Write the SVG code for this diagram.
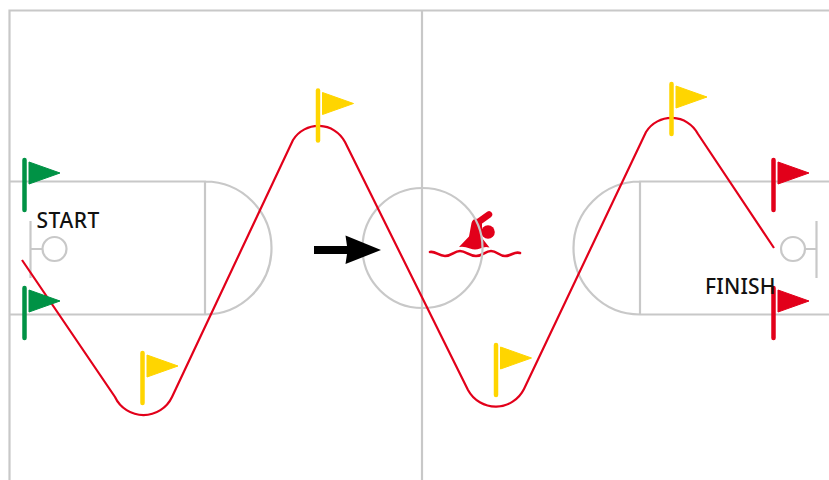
<svg xmlns="http://www.w3.org/2000/svg" width="829" height="480" viewBox="0 0 829 480">
<style>
.f{fill:none;stroke:#c8c8c8;stroke-width:2.200}
.p{stroke-width:4.500;stroke-linecap:round;fill:none}
.t{font-family:"Noto Sans","Liberation Sans",sans-serif;font-size:21px;font-weight:500;fill:#111}
.g{stroke:#009245;fill:#009245}.y{stroke:#ffd500;fill:#ffd500}.r{stroke:#e2001a;fill:#e2001a}
.g polygon,.y polygon,.r polygon{stroke:none}
</style>
<defs>
<g id="flag"><line class="p" x1="0" y1="2" x2="0" y2="52" style="stroke:inherit"/><polygon points="4.500,4 35.500,15 4.500,26"/></g>
</defs>
<rect width="829" height="480" fill="#fff"/>
<g id="swimmer">
<circle cx="488" cy="232" r="6.800" fill="#e2001a"/>
<path d="M478.500 222L489 214.500" fill="none" stroke="#e2001a" stroke-width="6.500" stroke-linecap="round"/>
<path d="M459 247L469 236.500L471.500 223Q472.500 219 476 218.500L482 222L482 238L489.500 247.500Q485 246 480 248.500Q475 250.500 470 248.500Q464 246 459 247Z" fill="#e2001a"/>
<path d="M430 252C436 251 438 256 445 256C452 256 454 251 460 251C466 251 469 256 476 256C483 256 485 251 491 251C497 251 499 256 505 256C512 256 514 251 520 253" fill="none" stroke="#e2001a" stroke-width="2.600" stroke-linecap="round"/>
</g>
<g id="field">
<path class="f" d="M9.500 480V10.500H829M422 10.500V480"/>
<path class="f" d="M9.500 181.500H205V314.500H9.500M205 181.500A66.500 66.500 0 0 1 205 314.500"/>
<circle class="f" cx="422.500" cy="248" r="60"/>
<path class="f" d="M829 181.500H640V314.500H829M640 181.500A66.500 66.500 0 0 0 640 314.500"/>
<path class="f" d="M30.500 221V278M30.500 249H42"/><circle class="f" cx="54.500" cy="249" r="12"/>
<path class="f" d="M816.500 221V278M816.500 249H805"/><circle class="f" cx="793" cy="249" r="12"/>
</g>
<g id="connectors">
<path d="M22 260L115 397A31.500 31.500 0 0 0 172 397L293 140A30 30 0 0 1 345 142L468 390A31.500 31.500 0 0 0 524 389L646 132A30 30 0 0 1 698 134L774 248" fill="none" stroke="#e2001a" stroke-width="2.200"/>
<g id="direction-arrow"><path d="M314 246H347L345.500 235.500L381 250L345.500 264L347 254H314Z" fill="#000"/></g>
</g>
<g id="flag-start-top" class="g"><use href="#flag" x="24.500" y="158"/></g>
<g id="flag-start-bottom" class="g"><use href="#flag" x="24.500" y="286"/></g>
<g id="flag-1" class="y"><use href="#flag" x="142.500" y="351"/></g>
<g id="flag-2" class="y"><use href="#flag" x="318" y="88.500"/></g>
<g id="flag-3" class="y"><use href="#flag" x="496" y="343"/></g>
<g id="flag-4" class="y"><use href="#flag" x="671.500" y="82"/></g>
<g id="flag-finish-top" class="r"><use href="#flag" x="773.500" y="158"/></g>
<g id="flag-finish-bottom" class="r"><use href="#flag" x="773.500" y="286"/></g>
<g id="start"><text class="t" x="36.500" y="228" letter-spacing="0.500">START</text></g>
<g id="finish"><text class="t" x="705" y="294" letter-spacing="0.200">FINISH</text></g>
</svg>
